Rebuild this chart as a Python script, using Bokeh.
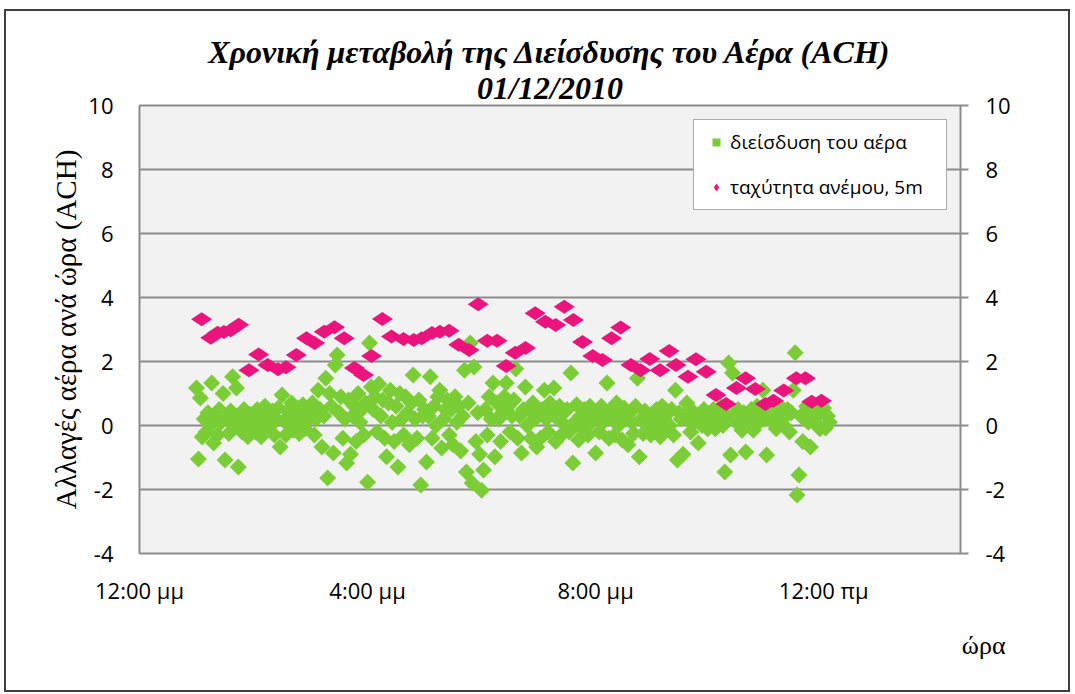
import math
from bokeh.plotting import figure
from bokeh.models import (ColumnDataSource, LinearAxis, Range1d, FixedTicker, Title,
                          Legend, LegendItem)
from bokeh.embed import file_html
from bokeh.resources import INLINE

# ---- data -----------------------------------------------------------------
# wind speed at 5 m, hour of day (decimal) and value
wind_hours = [13.09, 13.25, 13.37, 13.48, 13.60, 13.74, 13.92, 14.09, 14.25, 14.43,
              14.57, 14.75, 14.93, 15.07, 15.24, 15.42, 15.59, 15.77, 15.93, 16.07,
              16.26, 16.42, 16.63, 16.81, 16.95, 17.13, 17.27, 17.43, 17.60, 17.78,
              17.94, 18.10, 18.27, 18.43, 18.59, 18.77, 18.94, 19.12, 19.30, 19.45,
              19.61, 19.77, 19.95, 20.12, 20.28, 20.44, 20.62, 20.79, 20.95, 21.13,
              21.29, 21.41, 21.62, 21.76, 21.94, 22.11, 22.29, 22.47, 22.63, 22.80,
              22.98, 23.12, 23.30, 23.52, 23.68, 23.79, 23.96]
wind_speed = [3.32, 2.74, 2.90, 2.92, 2.98, 3.15, 1.73, 2.22, 1.89, 1.76,
              1.82, 2.20, 2.73, 2.58, 2.93, 3.07, 2.73, 1.80, 1.58, 2.17,
              3.33, 2.78, 2.70, 2.67, 2.73, 2.89, 2.93, 2.96, 2.52, 2.36,
              3.79, 2.65, 2.65, 1.86, 2.27, 2.42, 3.51, 3.24, 3.14, 3.71,
              3.30, 2.61, 2.17, 2.05, 2.73, 3.06, 1.89, 1.73, 2.08, 1.73,
              2.33, 1.89, 1.52, 2.07, 1.68, 0.95, 0.67, 1.17, 1.48, 1.14,
              0.67, 0.77, 1.09, 1.48, 1.48, 0.74, 0.77]

# air infiltration (ACH), logged every 2 minutes from 13:00 (one row per hour)
ach_start_hour = 13.0
ach_step_min = 2
ach_values = [
    1.17, -1.05, 0.86, -0.36, 0.2, -0.2, 0.4, 0.0, 1.33, -0.55, 0.3, -0.3, 0.5, 0.1, 1.0,
    -1.08, 0.2, -0.25, 0.45, 1.52, 0.05, 1.17, -1.3, 0.3, -0.2, 0.5, 0.1, -0.35, 0.35, 0.0,
    0.3, -0.2, 0.5, 0.1, -0.35, 0.25, 0.6, -0.1, 0.35, 0.0, 0.45, -0.3, 0.2, 0.55, -0.67,
    0.95, 0.15, -0.3, 0.45, 0.05, 0.7, -0.15, 0.3, 0.55, -0.25, 0.1, 0.65, -0.1, 0.4, 0.2,
    0.4, 0.7, -0.3, 0.2, 1.1, 0.5, -0.67, 0.3, 1.48, -1.64, 1.0, 0.6, -0.86, 1.89, 2.2,
    0.4, 0.9, -0.4, 0.2, -1.17, 0.8, -0.9, 0.3, 0.6, -0.5, 1.0, 0.1, 0.5, -0.3, 0.7,
    -1.77, 2.58, 1.2, 0.5, 0.9, -0.2, 1.3, 0.3, 0.8, -0.4, -0.98, 0.7, 1.1, 0.1, -0.5,
    0.6, -1.3, 1.0, 0.2, -0.3, 0.9, 0.4, -0.6, 0.7, 1.58, 0.2, -0.4, 0.8, -1.86, 0.3,
    0.5, -1.14, 0.3, 1.52, -0.4, 0.6, 0.0, 0.9, 1.1, -0.7, 0.2, 0.5, 0.8, -0.3, 0.5,
    -0.6, 0.9, 0.1, 0.6, -0.8, 0.3, 1.73, -1.45, 0.7, 2.58, -1.8, 1.83, -0.5, 0.4, -0.9,
    -2.02, -1.39, 0.5, -0.3, 0.9, 0.2, 1.33, -0.98, 0.7, 0.2, -0.5, 0.4, 0.9, 1.33, 0.6,
    -0.2, 0.3, 0.8, 1.77, -0.4, 0.3, -0.86, 0.5, 1.2, 0.0, 0.5, -0.4, 0.7, 0.2, -0.67,
    0.3, -0.4, 0.5, 1.1, 0.2, -0.2, 0.7, 0.4, 1.17, -0.5, 0.2, 0.6, -0.3, 0.4, 0.0,
    0.5, -0.2, 1.64, -1.17, 0.1, 0.65, -0.45, 0.3, -0.1, 0.5, 0.2, -0.3, 0.6, 0.1, 0.4,
    -0.86, 0.4, -0.2, 0.6, 0.1, 0.3, 1.33, -0.4, 0.5, 0.2, -0.3, 0.7, 0.0, 0.35, -0.45,
    0.55, 0.2, -0.6, 0.4, 0.1, -0.25, 0.6, 1.48, -0.98, 0.2, -0.25, 0.45, 0.0, 0.3, -0.3,
    0.3, -0.2, 0.5, 0.1, -0.35, 0.6, 0.2, -0.1, 0.4, 0.0, 0.5, -0.3, 1.1, -1.08, 0.4,
    0.2, -0.9, 0.3, 0.7, 0.15, -0.2, 0.45, 0.1, 0.3, -0.55, 0.25, 0.0, 0.5, 0.2, -0.1,
    0.3, 0.1, 0.5, -0.1, 0.4, 0.2, 0.6, 0.0, -1.45, 0.3, 1.95, -0.92, 1.64, 0.35, 0.1,
    0.5, 0.2, -0.15, 0.4, -0.83, 0.35, 0.15, 0.5, -0.15, 0.3, 0.6, 0.1, 0.4, 1.1, 0.2,
    -0.92, 0.3, 0.5, 0.1, 0.6, -0.1, 0.4, 0.2, 0.55, 0.0, 0.3, 0.5, -0.2, 0.4, 1.1,
    2.27, -2.17, -1.55, 0.3, -0.5, 0.2, 0.6, 0.1, -0.67, 0.4, 0.1, 0.6, 0.3, -0.1, 0.5,
    0.55, -0.08, 0.3, 0.1,
]
ach_hours = [ach_start_hour + i * ach_step_min / 60.0 for i in range(len(ach_values))]

x_ticks = [12, 16, 20, 24]
x_tick_labels = ["12:00 μμ", "4:00 μμ", "8:00 μμ", "12:00 πμ"]
y_ticks = [-4, -2, 0, 2, 4, 6, 8, 10]
y_tick_labels = ["-4", "-2", "0", "2", "4", "6", "8", "10"]

series_names = ["διείσδυση του αέρα", "ταχύτητα ανέμου, 5m"]
title_lines = ["Χρονική μεταβολή της Διείσδυσης του Αέρα (ACH)", "01/12/2010"]
y_title = "Αλλαγές αέρα ανά ώρα (ACH)"
x_title = "ώρα"

# ---- styling ----------------------------------------------------------------
GREEN = "#7BCD36"
PINK = "#EB137C"
GRID = "#8C8C8C"
SANS = "Open Sans"
SERIF = "Liberation Serif"
TICK_SIZE = "22px"

p = figure(width=1062, height=679, output_backend="svg", toolbar_location=None,
           title=None,
           x_range=Range1d(12, 26.4), y_range=Range1d(-4, 10),
           min_border_left=133, min_border_right=108,
           min_border_top=94, min_border_bottom=137,
           background_fill_color="#F2F2F2", border_fill_color="white")
# chart-area frame drawn around the whole figure
p.styles = {"margin-left": "6px", "margin-top": "11px",
            "outline": "2px solid #3F3F3F"}
p.outline_line_color = GRID
p.outline_line_width = 2
p.xgrid.visible = False
p.ygrid.ticker = FixedTicker(ticks=y_ticks)
p.ygrid.grid_line_color = GRID
p.ygrid.grid_line_width = 2

# bottom axis
xa = p.xaxis[0]
xa.ticker = FixedTicker(ticks=x_ticks)
xa.major_label_overrides = {t: lab for t, lab in zip(x_ticks, x_tick_labels)}
xa.axis_line_color = None
xa.major_tick_out = 0
xa.major_tick_in = 0
xa.minor_tick_out = 0
xa.minor_tick_in = 0
xa.major_label_standoff = 21
xa.major_label_text_font = SANS
xa.major_label_text_font_size = TICK_SIZE
xa.major_label_text_color = "black"

y_overrides = {t: lab for t, lab in zip(y_ticks, y_tick_labels)}

# left axis
ya = p.yaxis[0]
ya.ticker = FixedTicker(ticks=y_ticks)
ya.major_label_overrides = y_overrides
ya.axis_line_color = None
ya.major_tick_out = 0
ya.major_tick_in = 0
ya.minor_tick_out = 0
ya.minor_tick_in = 0
ya.major_label_standoff = 26
ya.major_label_text_font = SANS
ya.major_label_text_font_size = TICK_SIZE
ya.major_label_text_color = "black"
ya.axis_label = y_title
ya.axis_label_text_font = SERIF
ya.axis_label_text_font_style = "normal"
ya.axis_label_text_font_size = "29px"
ya.axis_label_text_color = "black"
ya.axis_label_standoff = 3

# right axis
ra = LinearAxis(ticker=FixedTicker(ticks=y_ticks))
ra.major_label_overrides = y_overrides
ra.axis_line_color = None
ra.major_tick_out = 8
ra.major_tick_in = 0
ra.major_tick_line_color = GRID
ra.major_tick_line_width = 2
ra.minor_tick_out = 0
ra.minor_tick_in = 0
ra.major_label_standoff = 17
ra.major_label_text_font = SANS
ra.major_label_text_font_size = TICK_SIZE
ra.major_label_text_color = "black"
p.add_layout(ra, "right")

# ---- titles -----------------------------------------------------------------
p.add_layout(Title(text=title_lines[1], align="center", text_font=SERIF,
                   text_font_style="bold italic", text_font_size="32px",
                   text_color="black", standoff=0), "above")
p.add_layout(Title(text=title_lines[0], align="center", text_font=SERIF,
                   text_font_style="bold italic", text_font_size="32px",
                   text_color="black", standoff=-5), "above")
p.add_layout(Title(text=x_title, align="right", offset=-45, text_font=SERIF,
                   text_font_style="normal", text_font_size="26px",
                   text_color="black", standoff=43), "below")

# ---- marks ------------------------------------------------------------------
ach_src = ColumnDataSource(dict(x=ach_hours, y=ach_values))
wind_src = ColumnDataSource(dict(x=wind_hours, y=wind_speed))

r_ach = p.scatter("x", "y", source=ach_src, marker="square", angle=math.pi / 4,
                  size=12, fill_color=GREEN, line_color=None)
r_wind = p.scatter("x", "y", source=wind_src, marker="diamond", angle=math.pi / 2,
                   size=21, fill_color=PINK, line_color=None)

legend = Legend(items=[LegendItem(label=series_names[0], renderers=[r_ach]),
                       LegendItem(label=series_names[1], renderers=[r_wind])],
                location=(554, 343), orientation="vertical",
                padding=9, spacing=19, margin=0,
                glyph_width=26, glyph_height=20, label_standoff=1, label_width=207,
                label_text_font=SANS, label_text_font_size="19px",
                label_text_color="black", label_height=20,
                border_line_color="#595959", border_line_width=1,
                background_fill_color="white", background_fill_alpha=1)
p.add_layout(legend, "center")

open("out.html", "w").write(file_html(p, INLINE))
